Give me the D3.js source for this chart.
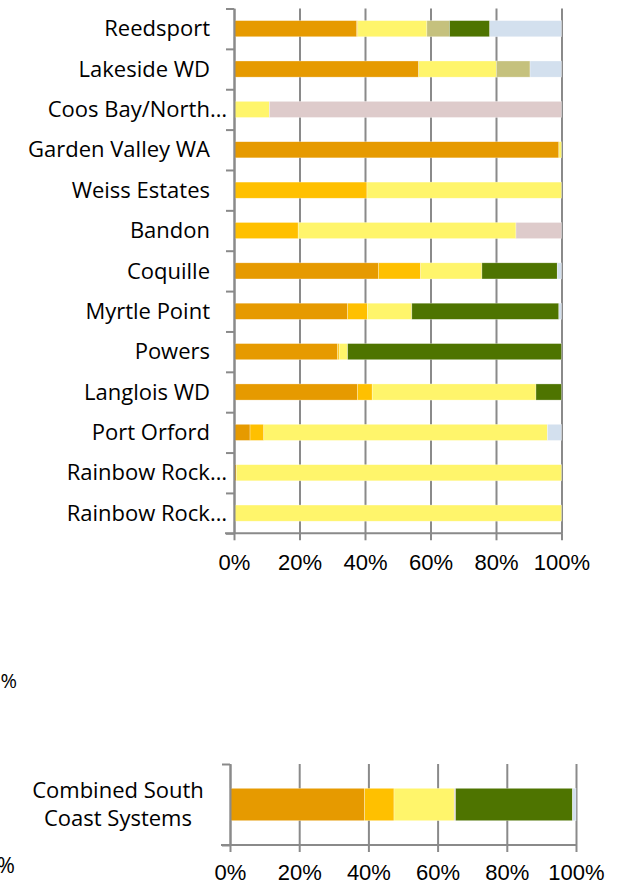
<!DOCTYPE html>
<html>
<head>
<meta charset="utf-8">
<script src="https://cdn.jsdelivr.net/npm/d3@7"></script>
<style>
  body { margin: 0; background: #fff; }
  svg { display: block; font-family: "Open Sans", Lato, sans-serif; }
</style>
</head>
<body>
<svg width="624" height="887"></svg>
<script>
// categories (top chart, from top to bottom)
const systems = ["Reedsport", "Lakeside WD", "Coos Bay/North…", "Garden Valley WA", "Weiss Estates",
  "Bandon", "Coquille", "Myrtle Point", "Powers", "Langlois WD", "Port Orford",
  "Rainbow Rock…", "Rainbow Rock…"];

// series shares, percent, one value per system
const orange    = [37.5, 56.4, 0, 99.2, 0, 0, 44.1, 34.7, 31.6, 37.7, 4.9, 0.7, 0];
const amber     = [0.3, 0, 0, 0, 40.6, 19.6, 12.9, 6.0, 0.5, 4.5, 4.2, 0, 0];
const yellow    = [21.1, 23.8, 10.8, 0.8, 59.4, 66.5, 18.7, 13.6, 2.6, 50.0, 86.6, 99.3, 100];
const pink      = [0, 0, 89.2, 0, 0, 13.9, 0, 0, 0, 0, 0, 0, 0];
const khaki     = [6.9, 10.2, 0, 0, 0, 0, 0, 0, 0, 0, 0, 0, 0];
const green     = [12.3, 0, 0, 0, 0, 0, 23.0, 44.9, 65.3, 7.8, 0, 0, 0];
const lightBlue = [21.9, 9.6, 0, 0, 0, 0, 1.3, 0.8, 0, 0, 4.3, 0, 0];

// combined chart
const combinedLabel = ["Combined South", "Coast Systems"];
const combined = [38.9, 8.5, 17.4, 0.4, 0, 33.8, 1.0];

const pctTicks = [0, 20, 40, 60, 80, 100];

const seriesKeys = ["orange", "amber", "yellow", "pink", "khaki", "green", "lightBlue"];
const seriesData = [orange, amber, yellow, pink, khaki, green, lightBlue];
const color = d3.scaleOrdinal()
  .domain(seriesKeys)
  .range(["#E69A00", "#FFC000", "#FFF56B", "#DECBCB", "#C5C17D", "#4E7400", "#D3E0EE"]);

const svg = d3.select("svg");
const gridColor = "#8a8a8a";
const fontSize = 22;

function rows(labels, cols) {
  return labels.map((name, i) => {
    const r = {idx: i, name: name};
    seriesKeys.forEach((k, j) => r[k] = cols[j][i]);
    return r;
  });
}

function drawChart(opt) {
  const data = opt.data;
  const n = data.length;
  const x = d3.scaleLinear().domain([0, 100]).range([opt.x0, opt.x1]);
  const y = d3.scaleBand().domain(d3.range(n)).range([opt.y0, opt.y1])
    .paddingInner(0.6).paddingOuter(0.3);
  const yEdge = d3.scaleLinear().domain([0, n]).range([opt.y0, opt.y1]);
  const g = svg.append("g");

  // gridlines
  g.append("g")
    .attr("transform", `translate(0,${opt.y1})`)
    .call(d3.axisBottom(x).tickValues(pctTicks).tickSize(-(opt.y1 - opt.y0)).tickFormat(""))
    .call(a => a.select(".domain").remove())
    .call(a => a.selectAll("line").attr("stroke", gridColor).attr("stroke-width", 2));

  // bars
  const stacked = d3.stack().keys(seriesKeys)(data);
  g.append("g").selectAll("g")
    .data(stacked)
    .join("g")
      .attr("fill", d => color(d.key))
    .selectAll("rect")
    .data(d => d.filter(s => s[1] - s[0] > 0))
    .join("rect")
      .attr("x", d => x(d[0]))
      .attr("y", d => y(d.data.idx))
      .attr("width", d => x(d[1]) - x(d[0]))
      .attr("height", y.bandwidth())
      .attr("stroke", "#fff")
      .attr("stroke-opacity", 0.5)
      .attr("stroke-width", 0.6);

  // x axis with tick labels
  g.append("g")
    .attr("transform", `translate(0,${opt.y1})`)
    .call(d3.axisBottom(x).tickValues(pctTicks).tickSize(7).tickSizeOuter(0)
      .tickPadding(opt.tickPad).tickFormat(d => d + "%"))
    .call(a => a.select(".domain").attr("stroke", gridColor).attr("stroke-width", 2)
      .attr("d", `M${opt.x0 - 9},0H${opt.x1 + 1}`))
    .call(a => a.selectAll("line").attr("stroke", gridColor).attr("stroke-width", 2))
    .call(a => a.selectAll("text").attr("fill", "#000").attr("font-size", fontSize)
      .attr("font-family", null));

  // y axis: ticks at category boundaries
  g.append("g")
    .attr("transform", `translate(${opt.x0},0)`)
    .call(d3.axisLeft(yEdge).tickValues(d3.range(n + 1)).tickSize(8).tickSizeOuter(0).tickFormat(""))
    .call(a => a.select(".domain").attr("stroke", gridColor).attr("stroke-width", 2))
    .call(a => a.selectAll("line").attr("stroke", gridColor).attr("stroke-width", 2));

  // category labels
  const lab = g.append("g").attr("font-size", fontSize).attr("fill", "#000");
  lab.selectAll("text")
    .data(data)
    .join("text")
      .attr("text-anchor", opt.anchor)
      .attr("x", d => opt.labelX(d))
      .attr("y", d => y(d.idx) + y.bandwidth() / 2)
    .each(function(d) {
      const lines = Array.isArray(d.label) ? d.label : [d.label];
      const t = d3.select(this);
      lines.forEach((ln, i) => {
        t.append("tspan")
          .attr("x", opt.labelX(d))
          .attr("dy", i === 0 ? (0.35 - (lines.length - 1) * 0.645) + "em" : "1.29em")
          .text(ln);
      });
    });
}

const topData = rows(systems, seriesData);
topData.forEach(d => d.label = d.name);
drawChart({
  data: topData,
  x0: 234, x1: 561.5, y0: 8.5, y1: 533.3,
  tickPad: 14, anchor: "end",
  labelX: d => d.name.endsWith("…") ? 227 : 210
});

const bottomData = rows(["Combined South Coast Systems"], combined.map(v => [v]));
bottomData[0].label = combinedLabel;
drawChart({
  data: bottomData,
  x0: 230, x1: 576, y0: 764, y1: 845,
  tickPad: 12, anchor: "middle",
  labelX: () => 118
});

// fragments of a neighbouring chart's tick labels cut off at the left edge
svg.append("text").attr("x", 17).attr("y", 688).attr("text-anchor", "end")
  .attr("font-size", 20).text("%");
svg.append("text").attr("x", 15).attr("y", 873).attr("text-anchor", "end")
  .attr("font-size", fontSize).text("0%");
</script>
</body>
</html>
